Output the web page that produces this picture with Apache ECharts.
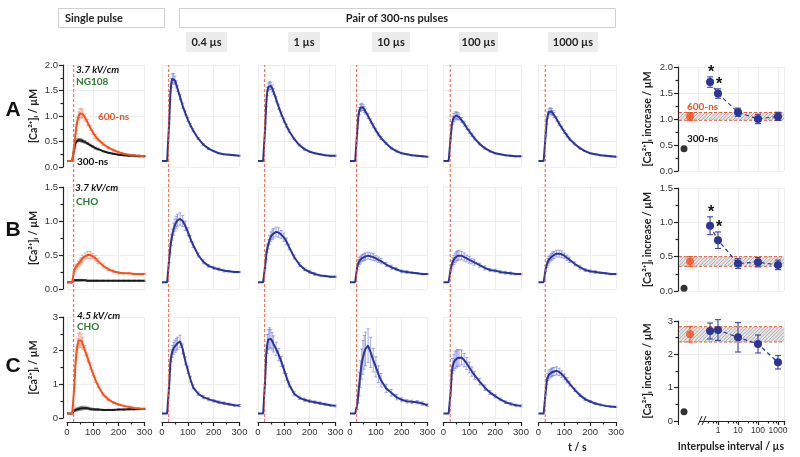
<!DOCTYPE html>
<html><head><meta charset="utf-8">
<script src="https://cdn.jsdelivr.net/npm/echarts@6/dist/echarts.min.js"></script>
<style>html,body{margin:0;padding:0;background:#fff}#c{width:800px;height:457px}</style>
</head><body><div id="c"></div><script>
// ---------------- DATA ----------------
const T_S = [0,10,20,25,28,32,36,40,45,50,55,60,70,80,90,100,110,120,140,160,180,200,220,240,260,280,300];
const STIM_T = 26;
const INTERVAL_LABELS = ['0.4 µs','1 µs','10 µs','100 µs','1000 µs'];

// Row A (NG108, 3.7 kV/cm)
const A_SINGLE_600 = [0.12,0.12,0.12,0.12,0.40,0.60,0.78,0.90,1.00,1.05,1.06,1.04,0.97,0.87,0.77,0.68,0.60,0.54,0.45,0.38,0.33,0.29,0.26,0.24,0.23,0.22,0.21];
const A_SINGLE_300 = [0.12,0.12,0.12,0.12,0.35,0.45,0.50,0.52,0.53,0.53,0.52,0.51,0.49,0.46,0.43,0.40,0.37,0.35,0.31,0.28,0.26,0.24,0.23,0.22,0.22,0.21,0.21];
const A_04   = [0.12,0.12,0.12,0.12,0.90,1.40,1.65,1.73,1.74,1.70,1.62,1.54,1.37,1.20,1.06,0.93,0.82,0.72,0.56,0.44,0.36,0.31,0.27,0.25,0.24,0.23,0.22];
const A_1    = [0.12,0.12,0.12,0.12,0.80,1.25,1.48,1.57,1.60,1.59,1.54,1.48,1.33,1.18,1.04,0.92,0.81,0.71,0.55,0.43,0.35,0.30,0.27,0.25,0.23,0.22,0.22];
const A_10   = [0.12,0.12,0.12,0.12,0.70,0.98,1.10,1.16,1.18,1.17,1.13,1.09,1.00,0.90,0.81,0.72,0.64,0.57,0.46,0.37,0.31,0.27,0.25,0.23,0.22,0.21,0.20];
const A_100  = [0.12,0.12,0.12,0.12,0.60,0.82,0.92,0.97,1.00,1.01,1.00,0.98,0.92,0.85,0.77,0.70,0.63,0.56,0.45,0.37,0.31,0.27,0.25,0.23,0.22,0.21,0.21];
const A_1000 = [0.12,0.12,0.12,0.12,0.65,0.90,1.02,1.08,1.10,1.09,1.06,1.02,0.94,0.85,0.77,0.69,0.62,0.55,0.45,0.37,0.31,0.27,0.25,0.23,0.22,0.21,0.20];
const ERR_A_SINGLE_600 = [0,0,0,0,0.03,0.05,0.06,0.07,0.08,0.09,0.09,0.08,0.07,0.06,0.05,0.04,0.04,0.03,0.03,0.02,0.02,0.02,0.01,0.01,0.01,0.01,0.01];
const ERR_A_SINGLE_300 = [0,0,0,0,0.02,0.03,0.03,0.03,0.03,0.03,0.03,0.03,0.03,0.02,0.02,0.02,0.02,0.02,0.01,0.01,0.01,0.01,0.01,0.01,0.01,0.01,0.01];
const ERR_A_04   = [0,0,0,0,0.06,0.08,0.09,0.10,0.09,0.08,0.07,0.06,0.05,0.05,0.04,0.04,0.03,0.03,0.02,0.02,0.02,0.01,0.01,0.01,0.01,0.01,0.01];
const ERR_A_1    = [0,0,0,0,0.06,0.07,0.08,0.08,0.08,0.07,0.07,0.06,0.05,0.05,0.04,0.04,0.03,0.03,0.02,0.02,0.02,0.01,0.01,0.01,0.01,0.01,0.01];
const ERR_A_10   = [0,0,0,0,0.05,0.06,0.07,0.07,0.07,0.06,0.06,0.05,0.05,0.04,0.04,0.03,0.03,0.03,0.02,0.02,0.02,0.01,0.01,0.01,0.01,0.01,0.01];
const ERR_A_100  = [0,0,0,0,0.05,0.07,0.08,0.08,0.08,0.07,0.07,0.06,0.05,0.05,0.04,0.04,0.03,0.03,0.02,0.02,0.02,0.01,0.01,0.01,0.01,0.01,0.01];
const ERR_A_1000 = [0,0,0,0,0.04,0.06,0.06,0.06,0.06,0.06,0.05,0.05,0.04,0.04,0.03,0.03,0.03,0.02,0.02,0.02,0.01,0.01,0.01,0.01,0.01,0.01,0.01];

// Row B (CHO, 3.7 kV/cm)
const B_SINGLE_600 = [0.10,0.10,0.10,0.10,0.28,0.31,0.33,0.35,0.37,0.40,0.42,0.45,0.48,0.50,0.50,0.48,0.45,0.41,0.34,0.29,0.26,0.24,0.23,0.23,0.22,0.22,0.22];
const B_SINGLE_300 = [0.10,0.10,0.10,0.10,0.13,0.13,0.13,0.13,0.13,0.13,0.13,0.13,0.13,0.12,0.12,0.12,0.12,0.12,0.12,0.12,0.12,0.12,0.12,0.12,0.12,0.12,0.12];
const B_04   = [0.10,0.10,0.10,0.10,0.45,0.60,0.72,0.80,0.88,0.94,0.98,1.01,1.03,1.00,0.93,0.84,0.74,0.65,0.50,0.40,0.34,0.31,0.29,0.27,0.26,0.25,0.25];
const B_1    = [0.10,0.10,0.10,0.10,0.35,0.50,0.60,0.66,0.72,0.77,0.80,0.82,0.84,0.83,0.80,0.76,0.70,0.62,0.47,0.36,0.29,0.25,0.22,0.20,0.19,0.18,0.18];
const B_10   = [0.10,0.10,0.10,0.10,0.33,0.38,0.41,0.43,0.45,0.46,0.47,0.48,0.49,0.48,0.47,0.45,0.43,0.41,0.36,0.32,0.29,0.26,0.25,0.24,0.23,0.22,0.22];
const B_100  = [0.10,0.10,0.10,0.10,0.30,0.36,0.40,0.43,0.46,0.48,0.49,0.50,0.49,0.47,0.45,0.43,0.41,0.39,0.35,0.31,0.28,0.27,0.25,0.24,0.23,0.22,0.22];
const B_1000 = [0.10,0.10,0.10,0.10,0.30,0.36,0.40,0.43,0.45,0.47,0.49,0.50,0.52,0.52,0.51,0.49,0.46,0.43,0.37,0.32,0.28,0.26,0.25,0.24,0.23,0.22,0.22];
const ERR_B_SINGLE_600 = [0,0,0,0,0.02,0.03,0.03,0.03,0.04,0.04,0.04,0.05,0.05,0.05,0.05,0.04,0.04,0.04,0.03,0.02,0.02,0.02,0.01,0.01,0.01,0.01,0.01];
const ERR_B_SINGLE_300 = [0,0,0,0,0.01,0.01,0.01,0.01,0.01,0.01,0.01,0.01,0.01,0.01,0.01,0.01,0.01,0.01,0.01,0.01,0.01,0.01,0.01,0.01,0.01,0.01,0.01];
const ERR_B_04   = [0,0,0,0,0.06,0.07,0.08,0.08,0.09,0.09,0.09,0.09,0.09,0.08,0.07,0.06,0.05,0.04,0.03,0.03,0.02,0.02,0.02,0.02,0.01,0.01,0.01];
const ERR_B_1    = [0,0,0,0,0.05,0.06,0.06,0.07,0.07,0.07,0.07,0.07,0.07,0.07,0.06,0.06,0.05,0.04,0.03,0.03,0.02,0.02,0.02,0.01,0.01,0.01,0.01];
const ERR_B_10   = [0,0,0,0,0.04,0.05,0.05,0.05,0.05,0.05,0.05,0.05,0.05,0.05,0.05,0.04,0.04,0.04,0.03,0.03,0.02,0.02,0.02,0.01,0.01,0.01,0.01];
const ERR_B_100  = [0,0,0,0,0.05,0.06,0.06,0.07,0.07,0.07,0.07,0.07,0.06,0.06,0.05,0.05,0.04,0.04,0.03,0.03,0.02,0.02,0.02,0.02,0.02,0.01,0.01];
const ERR_B_1000 = [0,0,0,0,0.04,0.04,0.05,0.05,0.05,0.05,0.05,0.05,0.05,0.05,0.05,0.04,0.04,0.04,0.03,0.03,0.02,0.02,0.02,0.01,0.01,0.01,0.01];

// Row C (CHO, 4.5 kV/cm)
const C_SINGLE_600 = [0.13,0.13,0.13,0.13,0.90,1.50,1.90,2.15,2.30,2.33,2.30,2.22,2.00,1.78,1.55,1.33,1.13,0.96,0.70,0.55,0.46,0.40,0.36,0.33,0.30,0.28,0.27];
const C_SINGLE_300 = [0.13,0.13,0.13,0.13,0.22,0.24,0.25,0.26,0.27,0.28,0.29,0.30,0.30,0.29,0.27,0.26,0.25,0.25,0.24,0.24,0.24,0.25,0.25,0.26,0.26,0.27,0.27];
const C_04   = [0.13,0.13,0.13,0.13,1.00,1.60,1.85,1.98,2.07,2.13,2.18,2.22,2.28,2.05,1.70,1.42,1.15,0.92,0.72,0.62,0.56,0.51,0.47,0.44,0.41,0.38,0.37];
const C_1    = [0.13,0.13,0.13,0.13,1.20,1.90,2.20,2.33,2.38,2.35,2.28,2.20,2.05,1.88,1.68,1.45,1.22,1.00,0.72,0.60,0.54,0.50,0.47,0.44,0.41,0.38,0.36];
const C_10   = [0.13,0.13,0.13,0.13,0.40,0.70,1.00,1.30,1.60,1.80,1.95,2.05,2.15,1.95,1.72,1.52,1.30,1.12,0.88,0.75,0.62,0.54,0.50,0.48,0.47,0.43,0.38];
const C_100  = [0.13,0.13,0.13,0.13,0.80,1.35,1.55,1.65,1.72,1.76,1.78,1.79,1.80,1.72,1.62,1.50,1.38,1.27,1.08,0.90,0.76,0.65,0.55,0.47,0.42,0.38,0.36];
const C_1000 = [0.13,0.13,0.13,0.13,0.80,1.10,1.22,1.28,1.32,1.35,1.37,1.38,1.40,1.37,1.30,1.22,1.12,1.02,0.84,0.68,0.56,0.49,0.43,0.39,0.36,0.34,0.33];
const ERR_C_SINGLE_600 = [0,0,0,0,0.10,0.15,0.18,0.20,0.22,0.22,0.20,0.18,0.15,0.12,0.10,0.08,0.07,0.06,0.04,0.03,0.03,0.02,0.02,0.02,0.02,0.02,0.02];
const ERR_C_SINGLE_300 = [0,0,0,0,0.03,0.03,0.04,0.04,0.04,0.05,0.05,0.05,0.05,0.04,0.04,0.03,0.03,0.03,0.02,0.02,0.02,0.02,0.02,0.02,0.02,0.02,0.02];
const ERR_C_04   = [0,0,0,0,0.12,0.15,0.18,0.18,0.18,0.18,0.18,0.18,0.18,0.15,0.12,0.10,0.08,0.06,0.05,0.05,0.05,0.04,0.04,0.04,0.03,0.03,0.03];
const ERR_C_1    = [0,0,0,0,0.20,0.25,0.28,0.30,0.30,0.28,0.26,0.24,0.20,0.18,0.15,0.12,0.10,0.08,0.06,0.05,0.05,0.04,0.04,0.04,0.03,0.03,0.03];
const ERR_C_10   = [0,0,0,0,0.15,0.25,0.35,0.40,0.45,0.50,0.50,0.50,0.50,0.45,0.35,0.30,0.25,0.20,0.12,0.10,0.08,0.06,0.05,0.05,0.05,0.05,0.04];
const ERR_C_100  = [0,0,0,0,0.15,0.20,0.22,0.24,0.25,0.25,0.25,0.24,0.22,0.20,0.18,0.16,0.14,0.12,0.10,0.08,0.06,0.05,0.04,0.04,0.04,0.03,0.03];
const ERR_C_1000 = [0,0,0,0,0.10,0.10,0.11,0.12,0.12,0.12,0.12,0.12,0.12,0.11,0.10,0.09,0.08,0.07,0.05,0.04,0.04,0.03,0.03,0.03,0.02,0.02,0.02];

// Summary (increase vs interpulse interval)
const INTERVALS_US = [0.4, 1, 10, 100, 1000];
const SINGLE_POS = [0.02, 0.04];            // axis positions of the 300-ns / 600-ns single-pulse points (left of break)
const SUM_A_PAIR = [1.71, 1.49, 1.13, 1.00, 1.05];
const SUM_A_PAIR_ERR = [0.10, 0.09, 0.08, 0.09, 0.08];
const SUM_A_SINGLE = [0.43, 1.05];          // 300-ns, 600-ns
const SUM_A_SINGLE_ERR = [0, 0.075];
const SUM_A_STARS = [1, 1, 0, 0, 0];
const SUM_B_PAIR = [0.95, 0.74, 0.40, 0.42, 0.38];
const SUM_B_PAIR_ERR = [0.13, 0.12, 0.07, 0.07, 0.07];
const SUM_B_SINGLE = [0.04, 0.43];
const SUM_B_SINGLE_ERR = [0, 0.07];
const SUM_B_STARS = [1, 1, 0, 0, 0];
const SUM_C_PAIR = [2.70, 2.73, 2.51, 2.31, 1.76];
const SUM_C_PAIR_ERR = [0.24, 0.31, 0.44, 0.27, 0.20];
const SUM_C_SINGLE = [0.28, 2.60];
const SUM_C_SINGLE_ERR = [0, 0.23];
const SUM_C_STARS = [0, 0, 0, 0, 0];

// ---------------- BUILD ----------------
const BLUE = '#2b3596', RED = '#f4511e', BLACK = '#1a1a1a', GREEN = '#2e7d32';
const BLUE_E = 'rgba(105,115,225,0.6)', RED_E = 'rgba(245,130,100,0.6)', BLACK_E = 'rgba(90,90,90,0.5)';
const TICK_FONT = 'Liberation Sans';
const HEAD_FONT = 'Lato';

const ROWS = [
  {s600:A_SINGLE_600,e600:ERR_A_SINGLE_600,s300:A_SINGLE_300,e300:ERR_A_SINGLE_300,
   pairs:[A_04,A_1,A_10,A_100,A_1000],perr:[ERR_A_04,ERR_A_1,ERR_A_10,ERR_A_100,ERR_A_1000],
   yMax:2,yInt:0.5,top:65,h:102,sTop:67,sH:104,
   sp:SUM_A_PAIR,spe:SUM_A_PAIR_ERR,ss:SUM_A_SINGLE,sse:SUM_A_SINGLE_ERR,st:SUM_A_STARS},
  {s600:B_SINGLE_600,e600:ERR_B_SINGLE_600,s300:B_SINGLE_300,e300:ERR_B_SINGLE_300,
   pairs:[B_04,B_1,B_10,B_100,B_1000],perr:[ERR_B_04,ERR_B_1,ERR_B_10,ERR_B_100,ERR_B_1000],
   yMax:1.5,yInt:0.5,top:187,h:102,sTop:188,sH:103,
   sp:SUM_B_PAIR,spe:SUM_B_PAIR_ERR,ss:SUM_B_SINGLE,sse:SUM_B_SINGLE_ERR,st:SUM_B_STARS},
  {s600:C_SINGLE_600,e600:ERR_C_SINGLE_600,s300:C_SINGLE_300,e300:ERR_C_SINGLE_300,
   pairs:[C_04,C_1,C_10,C_100,C_1000],perr:[ERR_C_04,ERR_C_1,ERR_C_10,ERR_C_100,ERR_C_1000],
   yMax:3,yInt:1,top:317,h:101,sTop:321,sH:100,
   sp:SUM_C_PAIR,spe:SUM_C_PAIR_ERR,ss:SUM_C_SINGLE,sse:SUM_C_SINGLE_ERR,st:SUM_C_STARS}
];

const COL_LEFT = [67,162,258,350,443.5,538.5], COL_W = 77.5;
const grid=[], xAxis=[], yAxis=[], series=[];
function addGrid(g,xa,ya){const i=grid.length;grid.push(g);xAxis.push(Object.assign({gridIndex:i},xa));yAxis.push(Object.assign({gridIndex:i},ya));return i;}
const SPLIT = {show:true,lineStyle:{color:'#ededed',width:1}};
const AX_LINE = {color:'#222',width:1.2};

function errRender(color, cap, starColor){
  return function(params, api){
    const x=api.value(0), lo=api.value(1), hi=api.value(2), star=api.value(3);
    if(!(hi>lo)) return null;
    const p1=api.coord([x,lo]), p2=api.coord([x,hi]);
    const st={stroke:color,lineWidth:1};
    const ch=[
      {type:'line',shape:{x1:p1[0],y1:p1[1],x2:p2[0],y2:p2[1]},style:st},
      {type:'line',shape:{x1:p1[0]-cap,y1:p1[1],x2:p1[0]+cap,y2:p1[1]},style:st},
      {type:'line',shape:{x1:p2[0]-cap,y1:p2[1],x2:p2[0]+cap,y2:p2[1]},style:st}
    ];
    if(star===1) ch.push({type:'text',style:{text:'*',x:p2[0]+1,y:p2[1]+4,align:'center',verticalAlign:'bottom',font:'bold 16px '+TICK_FONT,fill:starColor}});
    return {type:'group',children:ch};
  };
}
function curve(gi, vals, errs, color, ecolor){
  series.push({type:'custom',xAxisIndex:gi,yAxisIndex:gi,silent:true,z:2,
    encode:{x:0,y:[1,2]},
    data:T_S.map((t,i)=>[t, vals[i]-errs[i], vals[i]+errs[i], 0]),
    renderItem:errRender(ecolor,1.6,'#000')});
  series.push({type:'line',xAxisIndex:gi,yAxisIndex:gi,silent:true,z:3,showSymbol:false,
    data:T_S.map((t,i)=>[t, vals[i]]),lineStyle:{color,width:2},itemStyle:{color}});
}

ROWS.forEach((R,r)=>{
  const last = r===2;
  for(let c=0;c<6;c++){
    const gi = addGrid({left:COL_LEFT[c],top:R.top,width:COL_W,height:R.h},
      {type:'value',min:0,max:300,interval:100,offset:last?4:0,
       axisLine:{show:last,onZero:false,lineStyle:AX_LINE},
       axisTick:{show:last,length:4,lineStyle:AX_LINE},
       minorTick:{show:last,splitNumber:2,length:2.5,lineStyle:AX_LINE},
       axisLabel:{show:last,fontSize:9.5,color:'#333',margin:5,fontFamily:TICK_FONT},
       splitLine:SPLIT,
       name:(last&&c===5)?'t / s':'',nameLocation:'middle',nameGap:20,
       nameTextStyle:{fontWeight:'bold',fontSize:10.5,color:'#222',fontFamily:HEAD_FONT}},
      {type:'value',min:0,max:R.yMax,interval:R.yInt,offset:c===0?4:0,
       axisLine:{show:c===0,onZero:false,lineStyle:AX_LINE},
       axisTick:{show:c===0,length:4,lineStyle:AX_LINE},
       minorTick:{show:c===0,splitNumber:2,length:2.5,lineStyle:AX_LINE},
       axisLabel:{show:c===0,fontSize:9.5,color:'#333',margin:5,fontFamily:TICK_FONT,
         formatter:v=>R.yInt<1?v.toFixed(1):String(v)},
       splitLine:SPLIT,
       name:c===0?'[Ca²⁺]ᵢ / µM':'',nameLocation:'middle',nameRotate:90,nameGap:24,
       nameTextStyle:{fontWeight:'bold',fontSize:10.5,color:'#222',fontFamily:HEAD_FONT}});
    if(c===0){
      curve(gi,R.s300,R.e300,BLACK,BLACK_E);
      curve(gi,R.s600,R.e600,RED,RED_E);
    } else {
      curve(gi,R.pairs[c-1],R.perr[c-1],BLUE,BLUE_E);
    }
  }
});

// stimulus markers: one dashed line per column spanning all three rows
for(let c=0;c<6;c++){
  const gi = addGrid({left:COL_LEFT[c],top:65,width:COL_W,height:357},
    {type:'value',min:0,max:300,show:false},{type:'value',min:0,max:1,show:false});
  series.push({type:'line',xAxisIndex:gi,yAxisIndex:gi,silent:true,z:4,showSymbol:false,
    data:[[STIM_T,0],[STIM_T,1]],lineStyle:{color:'#ee5a3a',width:1,type:[3,2]}});
}

function logLabel(v){const l=Math.log10(v);return (v>=1&&Math.abs(l-Math.round(l))<1e-6)?String(Math.round(v)):'';}

// hatched band (gray diagonal hatch between red dashed edges)
function bandRender(params, api){
  const cs=params.coordSys, lo=api.value(0), hi=api.value(1);
  const y0=api.coord([1,hi])[1], y1=api.coord([1,lo])[1];
  const x0=cs.x+1, x1=cs.x+cs.width;
  const ch=[{type:'rect',shape:{x:x0,y:y0,width:x1-x0,height:y1-y0},style:{fill:'#e6e6e6'}}];
  const hs={stroke:'#9c9c9c',lineWidth:0.8};
  for(let s=x0+y0+2; s<x1+y1; s+=3.5){
    const xa=Math.max(x0, s-y1), xb=Math.min(x1, s-y0);
    if(xb>xa) ch.push({type:'line',shape:{x1:xa,y1:s-xa,x2:xb,y2:s-xb},style:hs});
  }
  const dash={stroke:'#ee5a3a',lineWidth:1,lineDash:[3,2]};
  ch.push({type:'line',shape:{x1:x0,y1:y0,x2:x1,y2:y0},style:dash});
  ch.push({type:'line',shape:{x1:x0,y1:y1,x2:x1,y2:y1},style:dash});
  return {type:'group',children:ch};
}

ROWS.forEach((R,r)=>{
  const last=r===2;
  const gi = addGrid({left:678,top:R.sTop,width:106,height:R.sH},
    {type:'log',logBase:10,min:0.01,max:2000,
     axisLine:{show:last,onZero:false,lineStyle:AX_LINE},
     axisTick:{show:last,length:4,lineStyle:AX_LINE},
     minorTick:{show:last,splitNumber:4,length:2.5,lineStyle:AX_LINE},
     axisLabel:{show:last,fontSize:8.5,color:'#333',margin:5,fontFamily:TICK_FONT,formatter:logLabel,showMinLabel:false,showMaxLabel:false},
     splitLine:SPLIT,
     name:last?'Interpulse interval / µs':'',nameLocation:'middle',nameGap:20,
     nameTextStyle:{fontWeight:'bold',fontSize:10.5,color:'#222',fontFamily:HEAD_FONT}},
    {type:'value',min:0,max:R.yMax,interval:R.yInt,
     axisLine:{show:true,onZero:false,lineStyle:AX_LINE},
     axisTick:{show:true,length:4,lineStyle:AX_LINE},
     minorTick:{show:true,splitNumber:2,length:2.5,lineStyle:AX_LINE},
     axisLabel:{fontSize:9.5,color:'#333',margin:5,fontFamily:TICK_FONT,
       formatter:v=>R.yInt<1?v.toFixed(1):String(v)},
     splitLine:SPLIT,
     name:'[Ca²⁺]ᵢ increase / µM',nameLocation:'middle',nameRotate:90,nameGap:25,
     nameTextStyle:{fontWeight:'bold',fontSize:10.5,color:'#222',fontFamily:HEAD_FONT}});
  const lo=R.ss[1]-R.sse[1], hi=R.ss[1]+R.sse[1];
  // band from single 600-ns response (mean ± SE)
  series.push({type:'custom',xAxisIndex:gi,yAxisIndex:gi,silent:true,z:1,encode:{y:[0,1]},
    data:[[lo,hi]],renderItem:bandRender});
  // single pulse points
  series.push({type:'custom',xAxisIndex:gi,yAxisIndex:gi,silent:true,z:5,encode:{x:0,y:[1,2]},
    data:[[SINGLE_POS[1],lo,hi,0]],renderItem:errRender(RED,3,'#000')});
  series.push({type:'scatter',xAxisIndex:gi,yAxisIndex:gi,silent:true,z:6,symbolSize:8,
    data:[[SINGLE_POS[1],R.ss[1]]],itemStyle:{color:RED}});
  series.push({type:'scatter',xAxisIndex:gi,yAxisIndex:gi,silent:true,z:6,symbolSize:7,
    data:[[SINGLE_POS[0],R.ss[0]]],itemStyle:{color:'#000'}});
  // pair points
  series.push({type:'custom',xAxisIndex:gi,yAxisIndex:gi,silent:true,z:5,encode:{x:0,y:[1,2]},
    data:INTERVALS_US.map((x,i)=>[x,R.sp[i]-R.spe[i],R.sp[i]+R.spe[i],R.st[i]]),
    renderItem:errRender(BLUE,3,'#111')});
  series.push({type:'line',xAxisIndex:gi,yAxisIndex:gi,silent:true,z:6,symbol:'circle',symbolSize:8,
    data:INTERVALS_US.map((x,i)=>[x,R.sp[i]]),
    lineStyle:{color:BLUE,width:1.2,type:[4,3]},itemStyle:{color:BLUE}});
});

// ---------------- GRAPHICS (headers, labels) ----------------
const graphic=[];
function txt(x,y,text,font,fill,align){graphic.push({type:'text',x,y,silent:true,z:50,style:{text,font,fill:fill||'#222',align:align||'left',verticalAlign:'middle'}});}
graphic.push({type:'rect',shape:{x:58.5,y:8.5,width:106,height:19},style:{fill:'#fff',stroke:'#cfcfcf',lineWidth:1},silent:true});
graphic.push({type:'rect',shape:{x:179.5,y:8.5,width:436,height:19},style:{fill:'#fff',stroke:'#cfcfcf',lineWidth:1},silent:true});
txt(65,18,'Single pulse','bold 11px '+HEAD_FONT,'#222');
txt(397,18,'Pair of 300-ns pulses','bold 11px '+HEAD_FONT,'#222','center');
const SUB_BOX=[[186,41],[288,32],[372,38],[459,39],[548,50]];
INTERVAL_LABELS.forEach((t,i)=>{const b=SUB_BOX[i];
  graphic.push({type:'rect',shape:{x:b[0],y:32,width:b[1],height:20},style:{fill:'#ececec'},silent:true});
  txt(b[0]+b[1]/2,42.5,t,'bold 11px '+HEAD_FONT,'#222','center');});
txt(13,110,'A','bold 21px '+TICK_FONT,'#111','center');
txt(13,230,'B','bold 21px '+TICK_FONT,'#111','center');
txt(13,366,'C','bold 21px '+TICK_FONT,'#111','center');
txt(76,70,'3.7 kV/cm','italic bold 10px '+HEAD_FONT,'#111');
txt(76,82,'NG108','bold 10px '+HEAD_FONT,GREEN);
txt(98,117,'600-ns','bold 10px '+HEAD_FONT,RED);
txt(77,162,'300-ns','bold 10px '+HEAD_FONT,'#111');
txt(75,188,'3.7 kV/cm','italic bold 10px '+HEAD_FONT,'#111');
txt(76,202,'CHO','bold 10px '+HEAD_FONT,GREEN);
txt(77,316,'4.5 kV/cm','italic bold 10px '+HEAD_FONT,'#111');
txt(77,327,'CHO','bold 10px '+HEAD_FONT,GREEN);
txt(687,107,'600-ns','bold 10px '+HEAD_FONT,RED);
txt(687,139,'300-ns','bold 10px '+HEAD_FONT,'#111');
// axis break on summary x-axis: no axis line left of the break
graphic.push({type:'rect',shape:{x:679,y:419,width:21,height:8},style:{fill:'#fff'},silent:true,z:100});
graphic.push({type:'line',shape:{x1:698,y1:425,x2:702,y2:416},style:{stroke:'#222',lineWidth:1},silent:true,z:101});
graphic.push({type:'line',shape:{x1:702,y1:425,x2:706,y2:416},style:{stroke:'#222',lineWidth:1},silent:true,z:101});

const chart = echarts.init(document.getElementById('c'),null,{renderer:'canvas'});
chart.setOption({animation:false,backgroundColor:'#fff',grid,xAxis,yAxis,series,graphic});
</script></body></html>
